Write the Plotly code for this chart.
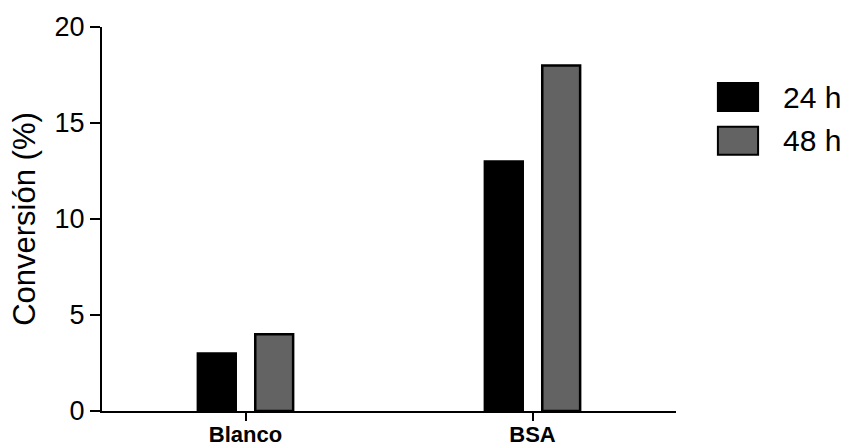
import plotly.graph_objects as go

categories = ["Blanco", "BSA"]
series_names = ["24 h", "48 h"]
values_24h = [3, 13]
values_48h = [4, 18]
y_ticks = [0, 5, 10, 15, 20]

colors = ["#000000", "#636363"]
FONT = "Liberation Sans, Arial, sans-serif"

fig = go.Figure()
for name, vals, col in zip(series_names, [values_24h, values_48h], colors):
    fig.add_trace(go.Bar(
        x=categories, y=vals, name=name,
        marker=dict(color=col, line=dict(color="#000000", width=2.5)),
        showlegend=False,
    ))

# legend drawn as shapes + text (large swatches like the original)
leg_x0, leg_x1 = 1.073, 1.143
leg_rows = [(0.854, 0.781), (0.740, 0.667)]
for (ytop, ybot), name, col in zip(leg_rows, series_names, colors):
    fig.add_shape(type="rect", xref="paper", yref="paper",
                  x0=leg_x0, x1=leg_x1, y0=ybot, y1=ytop,
                  fillcolor=col, line=dict(color="#000000", width=2))
    fig.add_annotation(xref="paper", yref="paper", x=1.183, y=(ytop + ybot) / 2,
                       text=name, showarrow=False, xanchor="left", yanchor="middle",
                       font=dict(family=FONT, size=30, color="#000000"))

fig.update_layout(
    width=846, height=448,
    margin=dict(l=102, r=170, t=27, b=37),
    paper_bgcolor="white", plot_bgcolor="white",
    barmode="group", bargap=0.6, bargroupgap=0.34,
    font=dict(family=FONT, color="#000000"),
)
fig.update_xaxes(
    automargin=False,
    showline=True, linecolor="#000000", linewidth=2,
    ticks="outside", ticklen=8, tickwidth=2, tickcolor="#000000",
    ticklabelstandoff=-5,
    tickfont=dict(family=FONT, size=22, color="#000000", weight="bold"),
    showgrid=False, zeroline=False,
)
fig.update_yaxes(
    automargin=False,
    range=[0, 20], tickvals=y_ticks,
    showline=True, linecolor="#000000", linewidth=2,
    ticks="outside", ticklen=10, tickwidth=2, tickcolor="#000000",
    tickfont=dict(family=FONT, size=27, color="#000000"),
    title=dict(text="Conversión (%)", font=dict(family=FONT, size=31, color="#000000"), standoff=10),
    showgrid=False, zeroline=False,
)

fig.write_html("out.html", config={"displayModeBar": False},
               post_script="document.body.style.margin='0';")
